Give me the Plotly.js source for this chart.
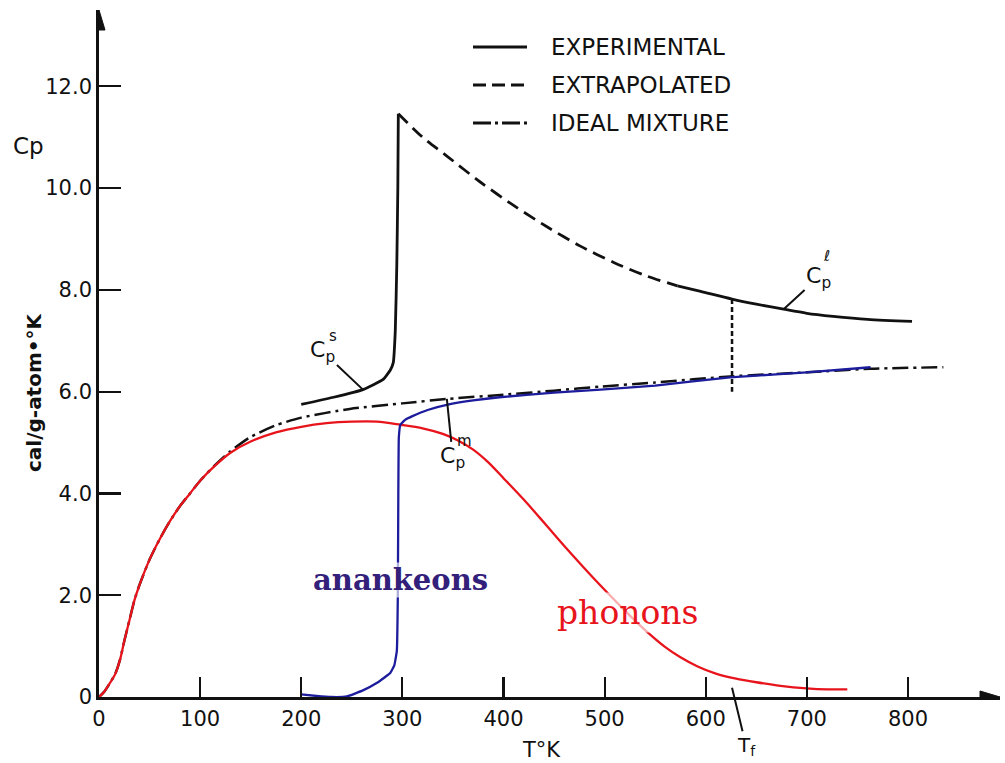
<!DOCTYPE html>
<html>
<head>
<meta charset="utf-8">
<script src="https://cdn.plot.ly/plotly-3.0.1.min.js"></script>
<style>html,body{margin:0;padding:0;background:#fff;}#chart{width:1005px;height:763px;}</style>
</head>
<body>
<div id="chart"></div>
<script>
// ---- data ----
// Experimental solid Cp (with the lambda peak)
const T_solid = [200, 232, 261, 281, 288, 291, 293, 294.5, 295.5, 296];
const Cp_solid = [5.75, 5.89, 6.04, 6.24, 6.42, 6.57, 7.2, 8.5, 10.0, 11.46];
// Extrapolated (dashed)
const T_extrap = [296, 320, 344, 377, 410, 443, 476, 509, 542, 572];
const Cp_extrap = [11.46, 11.0, 10.63, 10.12, 9.66, 9.24, 8.86, 8.54, 8.27, 8.08];
// Experimental liquid Cp
const T_liquid = [572, 595, 626, 650, 677, 700, 726, 760, 804];
const Cp_liquid = [8.08, 7.97, 7.82, 7.72, 7.62, 7.54, 7.48, 7.42, 7.38];
// Ideal mixture (dash-dot)
const T_ideal = [0, 5, 11, 16, 21, 25, 30, 35, 40, 50, 60, 70, 80, 90, 100, 115, 130, 149, 175, 200, 248, 300, 346, 400, 450, 496, 550, 624, 700, 763, 835];
const Cp_ideal = [0, 0.1, 0.28, 0.45, 0.75, 1.1, 1.5, 1.9, 2.2, 2.7, 3.1, 3.45, 3.75, 4.0, 4.25, 4.56, 4.83, 5.1, 5.34, 5.49, 5.66, 5.77, 5.86, 5.94, 6.02, 6.1, 6.18, 6.3, 6.38, 6.45, 6.48];
// Anankeons (blue)
const T_anank = [200, 215, 230, 245, 261, 275, 288, 292, 294.5, 295.5, 296, 296.5, 298, 303, 310, 325, 346, 370, 396, 450, 496, 550, 624, 700, 763];
const Cp_anank = [0.05, 0.02, 0.0, 0.01, 0.13, 0.28, 0.47, 0.62, 0.9, 2.0, 4.0, 5.1, 5.35, 5.45, 5.52, 5.64, 5.75, 5.83, 5.89, 5.98, 6.04, 6.12, 6.28, 6.38, 6.48];
// Phonons (red)
const T_phon = [0, 5, 11, 16, 21, 25, 30, 35, 40, 50, 60, 70, 80, 90, 100, 115, 130, 150, 175, 200, 225, 250, 275, 298, 320, 340, 355, 370, 385, 400, 420, 436, 453, 469, 480, 495, 510, 525, 542, 560, 575, 592, 610, 630, 650, 674, 700, 720, 740];
const Cp_phon = [0, 0.1, 0.28, 0.45, 0.75, 1.1, 1.5, 1.9, 2.2, 2.7, 3.1, 3.45, 3.75, 4.0, 4.25, 4.55, 4.8, 5.02, 5.2, 5.31, 5.38, 5.41, 5.41, 5.35, 5.28, 5.17, 5.04, 4.86, 4.61, 4.3, 3.88, 3.52, 3.13, 2.77, 2.53, 2.21, 1.9, 1.6, 1.28, 0.98, 0.78, 0.6, 0.46, 0.36, 0.29, 0.22, 0.17, 0.15, 0.15];
// Melting temperature marker
const T_f = 626;
const Tf_lineT = [626, 626];
const Tf_lineCp = [7.82, 6.0];

const xTickVals = [0, 100, 200, 300, 400, 500, 600, 700, 800];
const xTickText = ['0', '100', '200', '300', '400', '500', '600', '700', '800'];
const yTickVals = [0, 2, 4, 6, 8, 10, 12];
const yTickText = ['0', '2.0', '4.0', '6.0', '8.0', '10.0', '12.0'];
const legendLabels = ['EXPERIMENTAL', 'EXTRAPOLATED', 'IDEAL MIXTURE'];
const legendDash = ['solid', '13px,6px', '18px,4px,3px,4px'];

// ---- drawing ----
const BLACK = '#111111';
const RED = '#e8141c';
const BLUE = '#1c1c9c';
const FONT = 'DejaVu Sans, Liberation Sans, sans-serif';

const traces = [
  {x: T_ideal, y: Cp_ideal, mode: 'lines', line: {color: BLACK, width: 2.5, dash: '16px,5px,3px,5px', shape: 'spline', smoothing: 0.6}, name: 'IDEAL MIXTURE', showlegend: false, hoverinfo: 'skip'},
  {x: T_solid, y: Cp_solid, mode: 'lines', line: {color: BLACK, width: 2.8, shape: 'spline', smoothing: 0.4}, name: 'EXPERIMENTAL', showlegend: false, hoverinfo: 'skip'},
  {x: T_extrap, y: Cp_extrap, mode: 'lines', line: {color: BLACK, width: 2.8, dash: '13px,7px', shape: 'spline', smoothing: 0.8}, name: 'EXTRAPOLATED', showlegend: false, hoverinfo: 'skip'},
  {x: T_liquid, y: Cp_liquid, mode: 'lines', line: {color: BLACK, width: 2.8, shape: 'spline', smoothing: 0.8}, name: 'EXPERIMENTAL liquid', showlegend: false, hoverinfo: 'skip'},
  {x: Tf_lineT, y: Tf_lineCp, mode: 'lines', line: {color: BLACK, width: 2.5, dash: '5px,3px'}, showlegend: false, hoverinfo: 'skip'},
  {x: T_phon, y: Cp_phon, mode: 'lines', line: {color: RED, width: 2.3, shape: 'spline', smoothing: 0.8}, name: 'phonons', showlegend: false, hoverinfo: 'skip', cliponaxis: false},
  {x: T_anank, y: Cp_anank, mode: 'lines', line: {color: BLUE, width: 2.3, shape: 'spline', smoothing: 0.3}, name: 'anankeons', showlegend: false, hoverinfo: 'skip', cliponaxis: false}
];

// plot area geometry helpers (paper coords for legend)
const L = 99, T = 10, W = 901, H = 687;
const px2paperX = p => (p - L) / W;
const px2paperY = p => (T + H - p) / H;

const shapes = [];
const annotations = [];
const legendRowsPx = [47, 85, 123];
legendLabels.forEach((lab, i) => {
  shapes.push({type: 'line', xref: 'paper', yref: 'paper',
    x0: px2paperX(473), x1: px2paperX(527), y0: px2paperY(legendRowsPx[i]), y1: px2paperY(legendRowsPx[i]),
    line: {color: BLACK, width: 3, dash: legendDash[i]}});
  annotations.push({xref: 'paper', yref: 'paper', x: px2paperX(549), y: px2paperY(legendRowsPx[i]),
    xanchor: 'left', yanchor: 'middle', showarrow: false, text: lab,
    font: {family: FONT, size: 23, color: BLACK}});
});

// axis arrowheads (pixel-sized shapes anchored at axis ends)
shapes.push({type: 'path', xref: 'x', yref: 'y', xsizemode: 'pixel', ysizemode: 'pixel', xanchor: 0, yanchor: 13.5,
  path: 'M-6,-20 L0,0 L6,-20 Z', fillcolor: BLACK, line: {color: BLACK, width: 1}});
shapes.push({type: 'path', xref: 'x', yref: 'y', xsizemode: 'pixel', ysizemode: 'pixel', xanchor: 891, yanchor: 0,
  path: 'M-20,-6 L0,0 L-20,6 Z', fillcolor: BLACK, line: {color: BLACK, width: 1}});

// axis labels
annotations.push({xref: 'paper', yref: 'paper', x: px2paperX(28), y: px2paperY(146), xanchor: 'center', yanchor: 'middle', text: 'Cp', showarrow: false, font: {family: FONT, size: 23, color: BLACK}});
annotations.push({xref: 'paper', yref: 'paper', x: px2paperX(34), y: px2paperY(392), xanchor: 'center', yanchor: 'middle', text: 'cal/g-atom•°K', textangle: -90, showarrow: false, font: {family: FONT, size: 20, color: BLACK, weight: 'bold'}});
annotations.push({xref: 'paper', yref: 'paper', x: px2paperX(541), y: px2paperY(750), xanchor: 'center', yanchor: 'middle', text: 'T°K', showarrow: false, font: {family: FONT, size: 21, color: BLACK}});

// curve labels with leaders
function cpLabel(x, y, ax, ay, sup, supdx, supdy) {
  annotations.push({x: x, y: y, xref: 'x', yref: 'y', ax: ax, ay: ay, text: 'C<sub>p</sub>', showarrow: true, arrowhead: 0, arrowwidth: 2, arrowcolor: BLACK, standoff: 0, font: {family: FONT, size: 22, color: BLACK}});
  annotations.push({x: x, y: y, xref: 'x', yref: 'y', xshift: supdx, yshift: supdy, text: sup, showarrow: false, font: {family: FONT, size: 15, color: BLACK}});
}
cpLabel(261, 6.04, -40, -38, 's', -30, 54);
cpLabel(344, 5.86, 6, 59, 'm', 18, -42);
cpLabel(677, 7.62, 35, -32, 'ℓ', 43, 53);

// Tf marker
annotations.push({x: T_f, y: 0.18, xref: 'x', yref: 'y', ax: 14, ay: 58, text: 'T<sub>f</sub>', showarrow: true, arrowhead: 0, arrowwidth: 2, arrowcolor: BLACK, standoff: 0, font: {family: FONT, size: 20, color: BLACK}});

// series names
annotations.push({x: 298, y: 2.3, xref: 'x', yref: 'y', xanchor: 'center', yanchor: 'middle', text: 'anankeons', showarrow: false, bgcolor: 'rgba(255,255,255,0.65)', borderpad: 0, font: {family: 'DejaVu Serif, Liberation Serif, serif', size: 29, color: '#33207a', weight: 'bold'}});
annotations.push({x: 523, y: 1.67, xref: 'x', yref: 'y', xanchor: 'center', yanchor: 'middle', text: 'phonons', showarrow: false, bgcolor: 'rgba(255,255,255,0.65)', borderpad: 0, font: {family: 'DejaVu Serif, Liberation Serif, serif', size: 33, color: RED}});

const layout = {
  width: 1005, height: 763,
  margin: {l: L, r: 1005 - L - W, t: T, b: 763 - T - H, pad: 0},
  paper_bgcolor: '#ffffff', plot_bgcolor: '#ffffff',
  showlegend: false,
  xaxis: {range: [0, 891], showgrid: false, zeroline: false, showline: true, linecolor: BLACK, linewidth: 2.8,
    ticks: 'inside', ticklen: 20, tickwidth: 2.2, tickcolor: BLACK, tickvals: xTickVals, ticktext: xTickText,
    tickfont: {family: FONT, size: 21, color: BLACK}, ticklabelstandoff: 1},
  yaxis: {range: [0, 13.5], showgrid: false, zeroline: false, showline: true, linecolor: BLACK, linewidth: 2.8,
    ticks: 'inside', ticklen: 22, tickwidth: 2.2, tickcolor: BLACK, tickvals: yTickVals, ticktext: yTickText,
    tickfont: {family: FONT, size: 21, color: BLACK}, ticklabelstandoff: 0},
  shapes: shapes,
  annotations: annotations
};

Plotly.newPlot('chart', traces, layout, {staticPlot: true});
</script>
</body>
</html>
